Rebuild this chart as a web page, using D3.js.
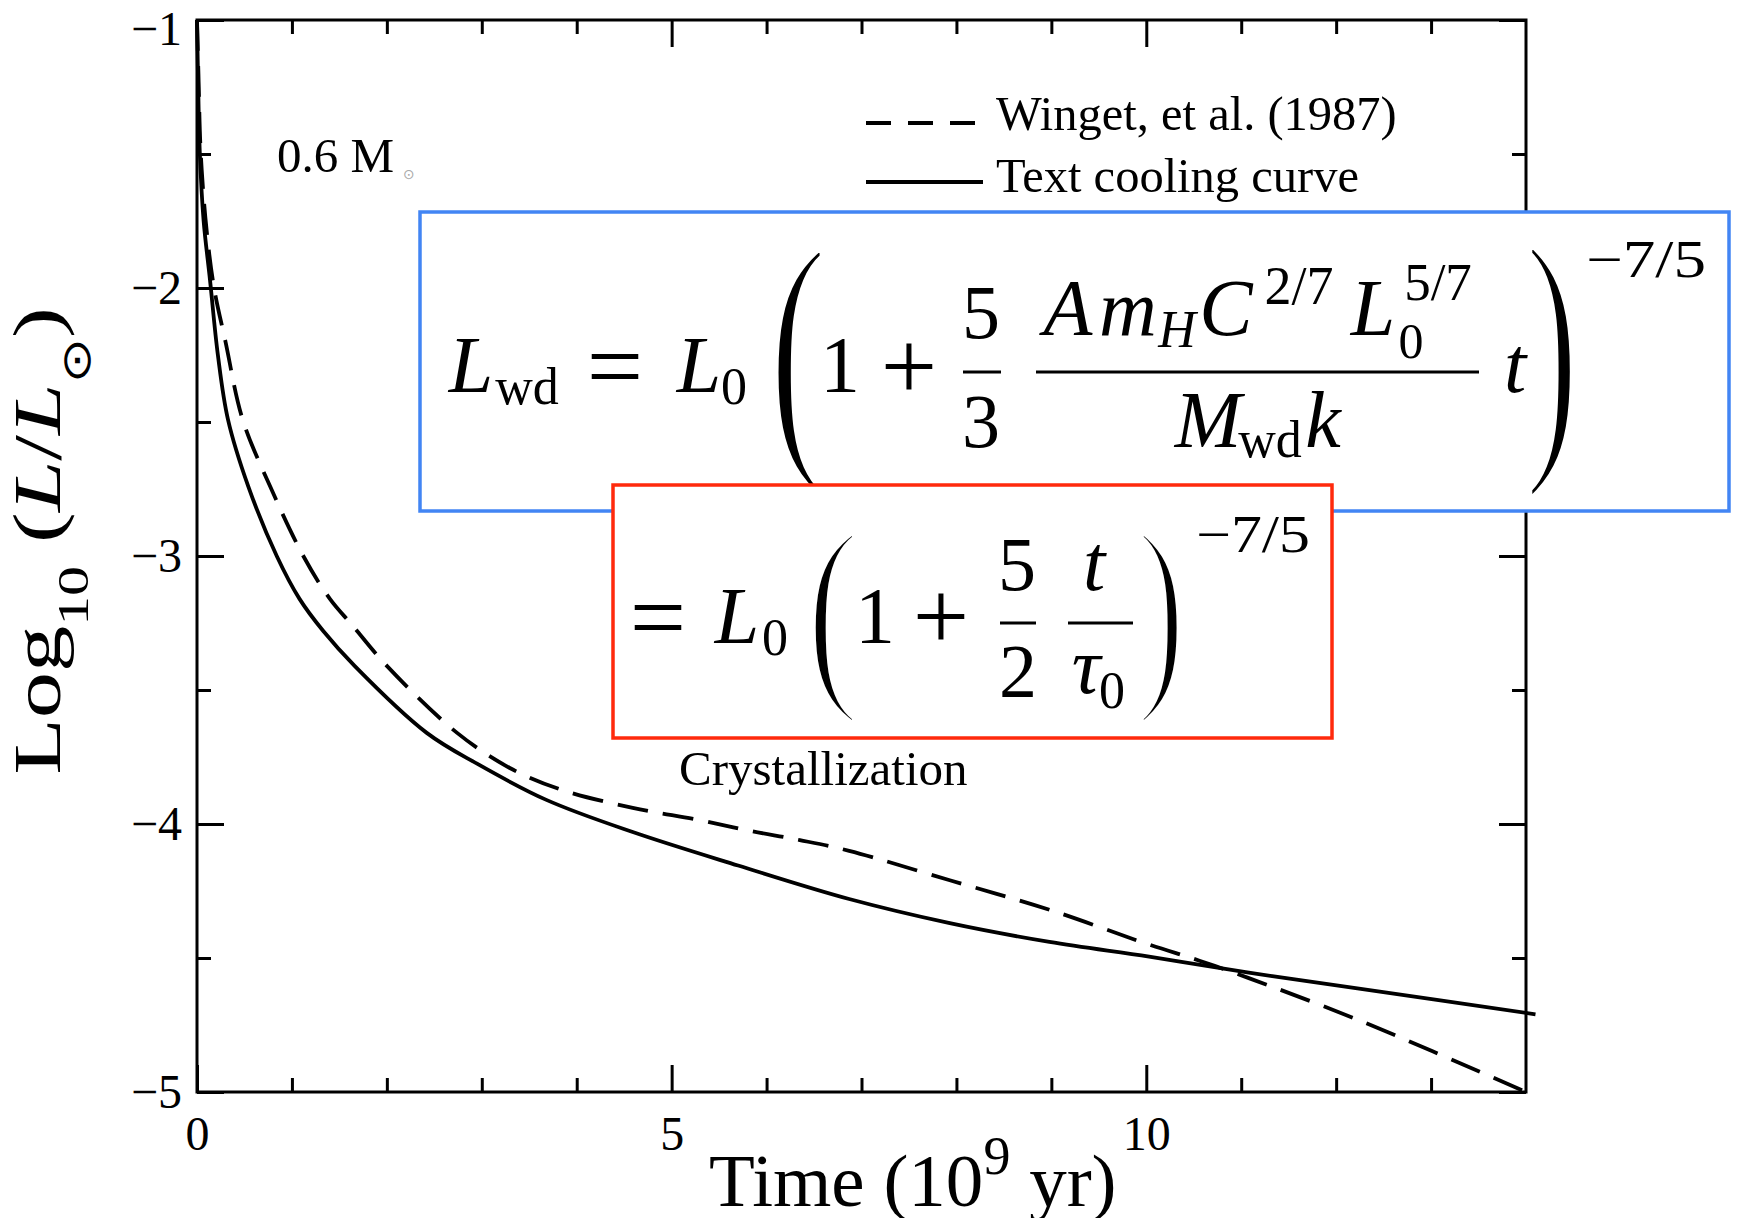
<!DOCTYPE html>
<html><head><meta charset="utf-8">
<script src="https://cdn.jsdelivr.net/npm/d3@7"></script>
<style>body{margin:0;background:#fff} svg{display:block}</style>
</head><body>
<svg id="chart" width="1738" height="1218"></svg>
<script>
// ---------- data ----------
const timeSolid  = [0, 0.01, 0.03, 0.07, 0.137, 0.22, 0.326, 0.54, 0.84, 1.08, 1.33, 1.66, 2.42, 2.95, 3.68, 4.59, 5.7, 6.87, 7.93, 8.98, 10.03, 11.08, 12.26, 14.1];
const logLSolid  = [-1.0, -1.2, -1.5, -1.75, -1.97, -2.25, -2.49, -2.74, -3.0, -3.16, -3.28, -3.41, -3.66, -3.775, -3.91, -4.03, -4.155, -4.28, -4.37, -4.44, -4.495, -4.555, -4.615, -4.71];
const timeWinget = [0, 0.015, 0.04, 0.1, 0.18, 0.3, 0.48, 0.77, 1.12, 1.40, 1.64, 2.0, 2.74, 3.29, 3.82, 4.59, 5.29, 5.82, 6.35, 6.87, 7.93, 8.98, 10.03, 10.56, 11.08, 12.26, 14.0];
const logLWinget = [-1.0, -1.2, -1.5, -1.78, -2.0, -2.2, -2.49, -2.74, -3.0, -3.16, -3.26, -3.41, -3.66, -3.79, -3.87, -3.94, -3.985, -4.025, -4.06, -4.10, -4.21, -4.32, -4.45, -4.51, -4.575, -4.735, -5.0];
const seriesNames = ["Winget, et al. (1987)", "Text cooling curve"];
const xMajorTicks = [0, 5, 10];
const xTickLabels = ["0", "5", "10"];
const xMinorTicks = [1, 2, 3, 4, 6, 7, 8, 9, 11, 12, 13];
const yMajorTicks = [-1, -2, -3, -4, -5];
const yTickLabels = ["\u22121", "\u22122", "\u22123", "\u22124", "\u22125"];
const yMinorTicks = [-1.5, -2.5, -3.5, -4.5];

// ---------- setup ----------
const svg = d3.select("#chart");
const serif = "'Liberation Serif','Times New Roman',Times,serif";
const x = d3.scaleLinear().domain([0, 14]).range([197, 1526]);
const y = d3.scaleLinear().domain([-1, -5]).range([20, 1092]);
svg.append("rect").attr("width", 1738).attr("height", 1218).attr("fill", "#fff");

const plot = svg.append("g");
plot.append("rect").attr("x", x(0)).attr("y", y(-1)).attr("width", x(14) - x(0)).attr("height", y(-5) - y(-1))
  .attr("fill", "none").attr("stroke", "#000").attr("stroke-width", 3);

function styleAxis(g) {
  g.select(".domain").remove();
  g.selectAll(".tick line").attr("stroke", "#000").attr("stroke-width", 3);
  g.selectAll(".tick text").attr("font-family", serif).attr("font-size", 48).attr("fill", "#000");
}
plot.append("g").attr("transform", `translate(0,${y(-5)})`)
  .call(d3.axisBottom(x).tickValues(xMajorTicks).tickSize(-27).tickSizeOuter(0).tickPadding(24)
    .tickFormat((d, i) => xTickLabels[i])).call(styleAxis);
plot.append("g").attr("transform", `translate(0,${y(-5)})`)
  .call(d3.axisBottom(x).tickValues(xMinorTicks).tickSize(-14).tickSizeOuter(0).tickFormat("")).call(styleAxis);
plot.append("g").attr("transform", `translate(0,${y(-1)})`)
  .call(d3.axisTop(x).tickValues(xMajorTicks).tickSize(-27).tickSizeOuter(0).tickFormat("")).call(styleAxis);
plot.append("g").attr("transform", `translate(0,${y(-1)})`)
  .call(d3.axisTop(x).tickValues(xMinorTicks).tickSize(-14).tickSizeOuter(0).tickFormat("")).call(styleAxis);
const leftAx = plot.append("g").attr("transform", `translate(${x(0)},0)`)
  .call(d3.axisLeft(y).tickValues(yMajorTicks).tickSize(-27).tickSizeOuter(0).tickPadding(15)
    .tickFormat((d, i) => yTickLabels[i])).call(styleAxis);
leftAx.selectAll(".tick text").attr("dy", d => d === -1 ? "0.5em" : "0.33em");
plot.append("g").attr("transform", `translate(${x(0)},0)`)
  .call(d3.axisLeft(y).tickValues(yMinorTicks).tickSize(-14).tickSizeOuter(0).tickFormat("")).call(styleAxis);
plot.append("g").attr("transform", `translate(${x(14)},0)`)
  .call(d3.axisRight(y).tickValues(yMajorTicks).tickSize(-27).tickSizeOuter(0).tickFormat("")).call(styleAxis);
plot.append("g").attr("transform", `translate(${x(14)},0)`)
  .call(d3.axisRight(y).tickValues(yMinorTicks).tickSize(-14).tickSizeOuter(0).tickFormat("")).call(styleAxis);

// curves
const line = d3.line().x(d => x(d[0])).y(d => y(d[1])).curve(d3.curveCatmullRom.alpha(0.5));
const winget = timeWinget.map((t, i) => [t, logLWinget[i]]);
const solid = timeSolid.map((t, i) => [t, logLSolid[i]]);
plot.append("path").datum(winget).attr("d", line).attr("fill", "none").attr("stroke", "#000")
  .attr("stroke-width", 3.8).attr("stroke-dasharray", "31,15");
plot.append("path").datum(solid).attr("d", line).attr("fill", "none").attr("stroke", "#000")
  .attr("stroke-width", 3.8);

// legend
const leg = svg.append("g");
leg.append("line").attr("x1", 866).attr("x2", 975).attr("y1", 123).attr("y2", 123)
  .attr("stroke", "#000").attr("stroke-width", 3.8).attr("stroke-dasharray", "25,17");
leg.append("line").attr("x1", 866).attr("x2", 983).attr("y1", 182).attr("y2", 182)
  .attr("stroke", "#000").attr("stroke-width", 3.8);
leg.append("text").attr("x", 996).attr("y", 130).attr("font-family", serif).attr("font-size", 48.5).text(seriesNames[0]);
leg.append("text").attr("x", 996).attr("y", 192).attr("font-family", serif).attr("font-size", 48.5).text(seriesNames[1]);

// annotations
const mass = svg.append("text").attr("x", 277).attr("y", 172).attr("font-family", serif).attr("font-size", 49);
mass.append("tspan").text("0.6 M");
mass.append("tspan").attr("x", 403).attr("y", 179).attr("font-family", "'DejaVu Sans',sans-serif")
  .attr("font-size", 14).attr("fill", "#aaa").text("\u2299");
svg.append("text").attr("x", 679).attr("y", 785).attr("font-family", serif).attr("font-size", 49).text("Crystallization");

// axis titles
const xt = svg.append("text").attr("x", 709).attr("y", 1206).attr("font-family", serif).attr("font-size", 75);
xt.append("tspan").text("Time (10");
xt.append("tspan").attr("font-size", 54).attr("dy", -32).text("9");
xt.append("tspan").attr("dy", 32).text(" yr)");

const yt = svg.append("text").attr("transform", "translate(60,541) rotate(-90) scale(1.36,1)")
  .attr("text-anchor", "middle").attr("font-family", serif).attr("font-size", 68);
yt.append("tspan").text("Log");
yt.append("tspan").attr("font-size", 44).attr("dy", 28).text("10");
yt.append("tspan").attr("dy", -28).text(" (");
yt.append("tspan").attr("font-style", "italic").text("L");
yt.append("tspan").text("/");
yt.append("tspan").attr("font-style", "italic").text("L");
yt.append("tspan").attr("font-family", "'DejaVu Sans',sans-serif").attr("font-size", 40).attr("dy", 30).text("\u2299");
yt.append("tspan").attr("dy", -30).text(")");

// ---------- formula boxes ----------
// one text element per formula atom; each part = [string, centreX, baseline, size, italic]
function put(g, parts) {
  const t = g.append("text").attr("text-anchor", "middle").attr("font-family", serif).attr("fill", "#000");
  parts.forEach(p => {
    t.append("tspan").attr("x", p[1]).attr("y", p[2]).attr("font-size", p[3])
      .attr("font-style", p[4] ? "italic" : "normal").text(p[0]);
  });
  return t;
}
function op(g, s, cx, cy, size) { return put(g, [[s, cx, cy + 0.253 * size, size, false]]); }
function bigParen(g, s, cx, top, bottom, inkW) {
  const F = (bottom - top) / 0.871;
  const base = bottom - 0.177 * F;
  const sx = inkW / (0.26 * F);
  g.append("text").attr("transform", `translate(${cx},${base}) scale(${sx},1)`).attr("text-anchor", "middle")
    .attr("font-family", serif).attr("font-size", F).attr("fill", "#000")
    .attr("stroke", "#fff").attr("stroke-width", 7).text(s);
}
function bar(g, x1, x2, yy) {
  g.append("line").attr("x1", x1).attr("x2", x2).attr("y1", yy).attr("y2", yy).attr("stroke", "#000").attr("stroke-width", 3);
}

const f1 = svg.append("g");
f1.append("rect").attr("x", 420).attr("y", 212).attr("width", 1309).attr("height", 299)
  .attr("fill", "#fff").attr("stroke", "#4285f4").attr("stroke-width", 3.5);
put(f1, [["L", 471, 392, 80, true], ["wd", 527, 404, 52, false]]);
op(f1, "=", 615, 375, 100);
put(f1, [["L", 699, 392, 80, true], ["0", 734, 404, 52, false]]);
bigParen(f1, "(", 798, 246, 490, 46);
put(f1, [["1", 840, 392, 80, false]]);
op(f1, "+", 909, 375, 100);
put(f1, [["5", 981, 338, 76, false]]);
bar(f1, 963, 1001, 372);
put(f1, [["3", 981, 447, 76, false]]);
bar(f1, 1036, 1479, 372);
put(f1, [["A", 1068, 335, 80, true], ["m", 1128, 335, 80, true], ["H", 1177, 347, 52, true],
         ["C", 1226, 335, 80, true], ["2/7", 1299, 304, 54, false]]);
put(f1, [["L", 1373, 335, 80, true], ["0", 1411, 358, 50, false], ["5/7", 1438, 300, 53, false]]);
put(f1, [["M", 1208, 447, 80, true], ["wd", 1270, 457, 52, false], ["k", 1323, 447, 80, true]]);
put(f1, [["t", 1515, 392, 80, true]]);
bigParen(f1, ")", 1552, 243, 490, 42);
put(f1, [["\u22127/5", 1646, 277, 52, false]]).select("tspan").attr("textLength", 120).attr("lengthAdjust", "spacingAndGlyphs");

const f2 = svg.append("g");
f2.append("rect").attr("x", 613).attr("y", 485).attr("width", 719).attr("height", 253)
  .attr("fill", "#fff").attr("stroke", "#ff2a0c").attr("stroke-width", 3.5);
op(f2, "=", 658, 626, 100);
put(f2, [["L", 737, 643, 80, true], ["0", 775, 655, 52, false]]);
bigParen(f2, "(", 833, 530, 718, 42);
put(f2, [["1", 875, 643, 80, false]]);
op(f2, "+", 941, 625, 100);
put(f2, [["5", 1017, 590, 76, false]]);
bar(f2, 1000, 1036, 623);
put(f2, [["2", 1018, 697, 76, false]]);
put(f2, [["t", 1094, 590, 80, true]]);
bar(f2, 1068, 1133, 623);
put(f2, [["\u03c4", 1086, 693, 80, true], ["0", 1112, 708, 52, false]]);
bigParen(f2, ")", 1161, 530, 718, 38);
put(f2, [["\u22127/5", 1253, 552, 52, false]]).select("tspan").attr("textLength", 114).attr("lengthAdjust", "spacingAndGlyphs");
</script>
</body></html>
